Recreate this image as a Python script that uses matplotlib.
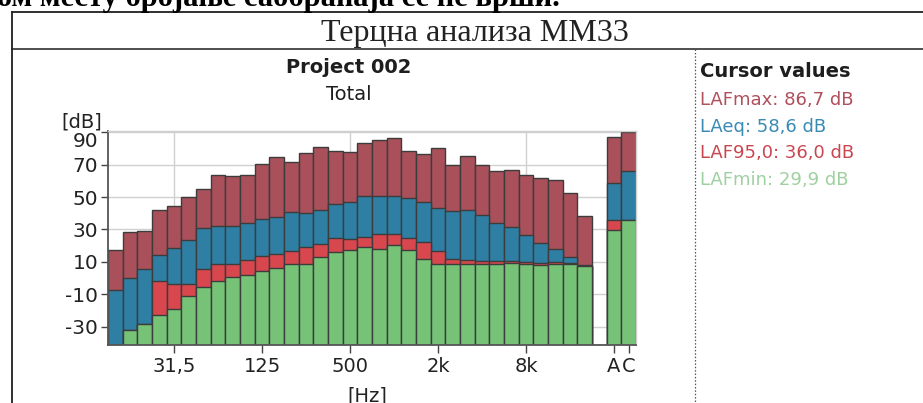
import matplotlib
matplotlib.use('Agg')
import matplotlib.pyplot as plt
import numpy as np
from matplotlib.lines import Line2D

# 1/3-octave bands 12.5 Hz .. 20 kHz, then the A and C totals
bands = ['12.5', '16', '20', '25', '31.5', '40', '50', '63', '80', '100', '125',
         '160', '200', '250', '315', '400', '500', '630', '800', '1k', '1.25k',
         '1.6k', '2k', '2.5k', '3.15k', '4k', '5k', '6.3k', '8k', '10k', '12.5k',
         '16k', '20k']
totals = ['A', 'C']

lafmax = [17.3, 28.6, 29.0, 42.3, 44.3, 49.9, 55.0, 63.4, 62.8, 63.8, 70.4,
          74.5, 71.6, 77.2, 80.7, 78.2, 77.6, 83.4, 85.0, 86.2, 78.6,
          76.4, 80.5, 70.0, 75.5, 69.8, 66.2, 66.5, 63.4, 62.0, 60.5,
          52.4, 38.2]
laeq = [-7.4, -0.2, 5.4, 14.2, 18.7, 23.4, 31.0, 32.0, 32.0, 33.9, 36.6,
        37.6, 40.9, 40.3, 42.1, 45.4, 47.0, 50.5, 50.5, 50.5, 49.2,
        46.9, 43.5, 41.3, 42.0, 38.9, 34.1, 31.5, 26.4, 21.8, 18.2,
        13.1, 8.0]
laf95 = [-45.0, -32.0, -28.5, -1.8, -3.4, -3.4, 5.4, 8.5, 8.9, 10.9, 13.6,
         15.0, 16.6, 19.1, 21.2, 24.9, 24.3, 25.5, 27.2, 27.2, 24.9,
         22.3, 16.8, 11.7, 11.0, 10.7, 10.5, 10.3, 10.1, 9.5, 10.0,
         9.5, 7.8]
lafmin = [-48.0, -32.0, -28.5, -22.7, -19.2, -11.0, -5.5, -1.8, 0.8, 1.9, 4.3,
          6.0, 8.9, 8.5, 13.0, 16.3, 17.1, 19.1, 18.1, 20.3, 17.1,
          11.5, 9.0, 8.5, 8.5, 8.7, 8.7, 9.3, 8.5, 8.0, 8.5,
          8.5, 7.5]

tot_max = [86.7, 89.8]
tot_eq = [58.6, 65.9]
tot_95 = [36.0, 36.0]
tot_min = [29.9, 36.0]

tick_bands = ['31.5', '125', '500', '2k', '8k']
tick_text = ['31,5', '125', '500', '2k', '8k']
yticks = [-30, -10, 10, 30, 50, 70, 90]

cursor = [('LAFmax: 86,7 dB', '#b0505d'),
          ('LAeq: 58,6 dB', '#3a8ab4'),
          ('LAF95,0: 36,0 dB', '#c9464f'),
          ('LAFmin: 29,9 dB', '#9fd09f')]

c_max, c_eq, c_95, c_min = '#a9505b', '#2f7fa5', '#d8474d', '#76c276'
edge = '#3c3c3c'

W, H = 923, 403


def fx(x):
    return x / W


def fy(y):
    return 1 - y / H


fig = plt.figure(figsize=(W / 100, H / 100), dpi=100)
fig.patch.set_facecolor('white')

# page / table frame
fig.add_artist(Line2D([fx(12), 1], [fy(11.5), fy(11.5)], color='#202020', lw=1.3))
fig.add_artist(Line2D([fx(12), 1], [fy(49), fy(49)], color='#303030', lw=1.2))
fig.add_artist(Line2D([fx(12), fx(12)], [fy(11.5), 0], color='#202020', lw=1.3))
fig.add_artist(Line2D([fx(695), fx(695)], [fy(49), 0], color='#555555', lw=0.9,
                      linestyle=(0, (1.2, 1.5))))

# line of the page text above the table, cut by the scan edge
fig.text(fx(-3), fy(6), 'ом месту бројање саобраћаја се не врши.',
         family='Liberation Serif', weight='bold', size=22, va='baseline', ha='left')
fig.text(fx(475), fy(41.5), 'Терцна анализа ММ33', family='Liberation Serif',
         size=23, va='baseline', ha='center', color='#222222')

fig.text(fx(349), fy(73), 'Project 002', weight='bold', size=14,
         va='baseline', ha='center', color='#1e1e1e')
fig.text(fx(349), fy(100), 'Total', size=14, va='baseline', ha='center',
         color='#1e1e1e')
fig.text(fx(61), fy(128), '[dB]', size=14, va='baseline', ha='left', color='#222222')
fig.text(fx(367), fy(387), '[Hz]', size=14, va='top', ha='center', color='#222222')

# cursor values panel
fig.text(fx(700), fy(77), 'Cursor values', weight='bold', size=14,
         va='baseline', ha='left', color='#1e1e1e')
for i, (txt, col) in enumerate(cursor):
    fig.text(fx(700), fy(105 + i * 26.7), txt, size=13, va='baseline',
             ha='left', color=col)

# chart
ax = fig.add_axes([fx(108), fy(345), (636 - 108) / W, (345 - 131) / H])
xb = np.arange(len(bands))
xt = np.array([len(bands) + 1, len(bands) + 2])
x = np.concatenate([xb, xt])
base = -60.0

series = [(lafmax + tot_max, c_max), (laeq + tot_eq, c_eq),
          (laf95 + tot_95, c_95), (lafmin + tot_min, c_min)]
for vals, col in series:
    v = np.array(vals)
    ax.bar(x, v - base, bottom=base, width=1.0, color=col, edgecolor=edge,
           linewidth=1.0, zorder=2)

ax.set_xlim(-0.5, len(bands) + 2.5)
ax.set_ylim(-41.2, 90.7)

ax.set_yticks(yticks)
ax.set_yticklabels([str(t) for t in yticks])
ax.tick_params(axis='y', length=5, width=1, pad=2, labelsize=14.5,
               colors='#444444', labelcolor='#222222')
labels = ax.get_yticklabels()
labels[-1].set_va('top')

xticks = [bands.index(b) for b in tick_bands] + list(xt)
ax.set_xticks(xticks)
ax.set_xticklabels(tick_text + totals)
ax.tick_params(axis='x', length=6, width=1, pad=3, labelsize=14,
               colors='#444444', labelcolor='#222222')

ax.set_axisbelow(True)
ax.grid(axis='y', color='#d0d0d0', lw=1.0)
for b in ['31.5', '500', '8k']:
    ax.axvline(bands.index(b), color='#d0d0d0', lw=1.0, zorder=0)

for s in ['left', 'bottom']:
    ax.spines[s].set_color('#555555')
    ax.spines[s].set_linewidth(1.3)
for s in ['top', 'right']:
    ax.spines[s].set_color('#cfcfcf')
    ax.spines[s].set_linewidth(1.0)

fig.savefig('out.png', dpi=100, facecolor='white')
